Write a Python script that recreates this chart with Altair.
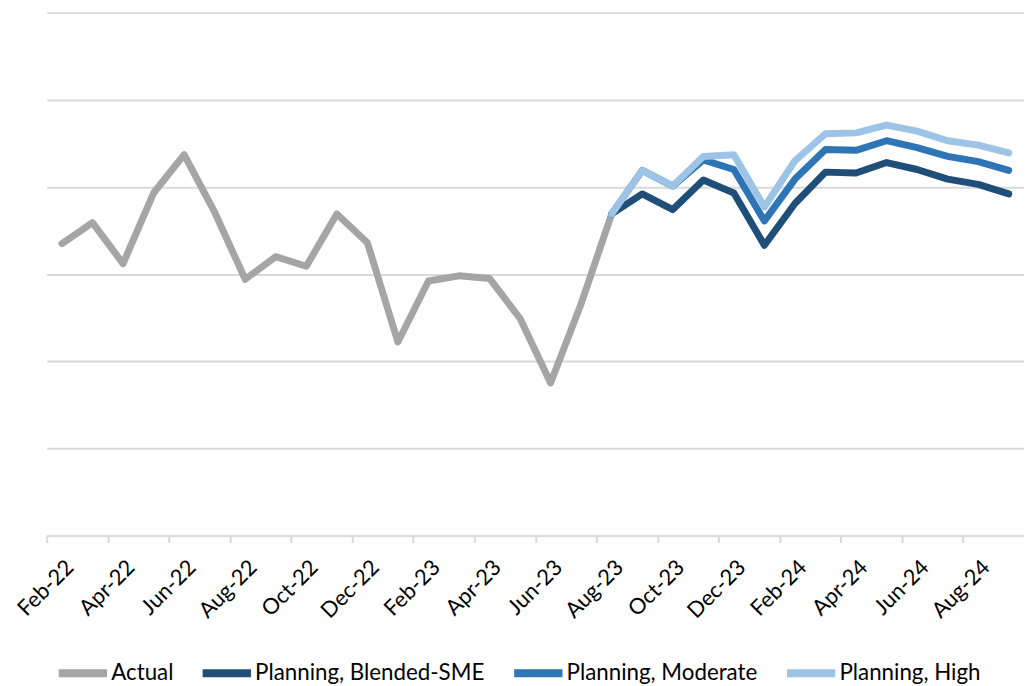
import altair as alt
import pandas as pd

months = ["Feb-22","Mar-22","Apr-22","May-22","Jun-22","Jul-22","Aug-22","Sep-22","Oct-22","Nov-22","Dec-22",
          "Jan-23","Feb-23","Mar-23","Apr-23","May-23","Jun-23","Jul-23","Aug-23","Sep-23","Oct-23","Nov-23","Dec-23",
          "Jan-24","Feb-24","Mar-24","Apr-24","May-24","Jun-24","Jul-24","Aug-24","Sep-24"]

series_names = ["Actual", "Planning, Blended-SME", "Planning, Moderate", "Planning, High"]
series_colors = ["#A5A5A5", "#1F4E79", "#2E75B6", "#9DC3E6"]

actual = [3.35, 3.59, 3.12, 3.93, 4.37, 3.71, 2.94, 3.20, 3.09, 3.69, 3.36, 2.22, 2.92, 2.98, 2.95, 2.49, 1.75, 2.66, 3.69]
blended = [3.69, 3.92, 3.74, 4.08, 3.93, 3.33, 3.81, 4.17, 4.16, 4.28, 4.20, 4.09, 4.03, 3.92]
moderate = [3.69, 4.19, 4.01, 4.31, 4.20, 3.61, 4.09, 4.43, 4.42, 4.53, 4.45, 4.35, 4.29, 4.19]
high = [3.69, 4.19, 4.01, 4.35, 4.37, 3.77, 4.30, 4.61, 4.62, 4.71, 4.64, 4.53, 4.48, 4.39]

forecast_start = 18
rows = []
for i, v in enumerate(actual):
    rows.append({"idx": i, "month": months[i], "value": v, "series": series_names[0]})
for name, vals in zip(series_names[1:], [blended, moderate, high]):
    for j, v in enumerate(vals):
        rows.append({"idx": forecast_start + j, "month": months[forecast_start + j], "value": v, "series": name})
df = pd.DataFrame(rows)

label_arr = "[" + ",".join("'" + m + "'" for m in months) + "]"
tick_vals = [-0.5 + 2 * k for k in range(16)]

FONT = "Lato"
W, H = 985, 527

x_enc = alt.X("idx:Q",
              scale=alt.Scale(domain=[-0.5, 31.5], nice=False, zero=False),
              axis=alt.Axis(values=tick_vals, title=None, grid=False,
                            labelExpr=label_arr + "[round(datum.value + 0.5)]",
                            labelOffset=16, labelAngle=-45, labelFontSize=22, labelFont=FONT,
                            labelColor="#000000", labelPadding=14, labelOverlap=False,
                            domainColor="#D9D9D9", domainWidth=2,
                            tickColor="#D9D9D9", tickWidth=2, tickSize=7))
y_enc = alt.Y("value:Q",
              scale=alt.Scale(domain=[0, 6], nice=False),
              axis=alt.Axis(values=[0, 1, 2, 3, 4, 5, 6], title=None, labels=False, ticks=False,
                            domain=False, grid=True, gridColor="#D9D9D9", gridWidth=2))
color_enc = alt.Color("series:N",
                      scale=alt.Scale(domain=series_names, range=series_colors),
                      legend=alt.Legend(title=None, orient="none", legendX=8, legendY=637,
                                        direction="horizontal", symbolType="stroke",
                                        symbolSize=2370, symbolStrokeWidth=8,
                                        labelFontSize=22.5, labelFont=FONT, labelColor="#000000",
                                        labelLimit=0, columnPadding=13, labelOffset=0, padding=0))

layers = []
for name in series_names:
    layers.append(
        alt.Chart(df).transform_filter(alt.datum.series == name)
        .mark_line(strokeWidth=7, strokeCap="round", strokeJoin="round")
        .encode(x=x_enc, y=y_enc, color=color_enc, order="idx:Q")
    )

chart = alt.layer(*layers).properties(
    width=W, height=H,
    background="white",
    autosize=alt.AutoSizeParams(type="none"),
    padding={"left": 39, "top": 2, "right": 0, "bottom": 149},
).configure_view(strokeWidth=0, stroke="transparent")

chart.save("out.html", embed_options={"renderer": "svg", "actions": False})
